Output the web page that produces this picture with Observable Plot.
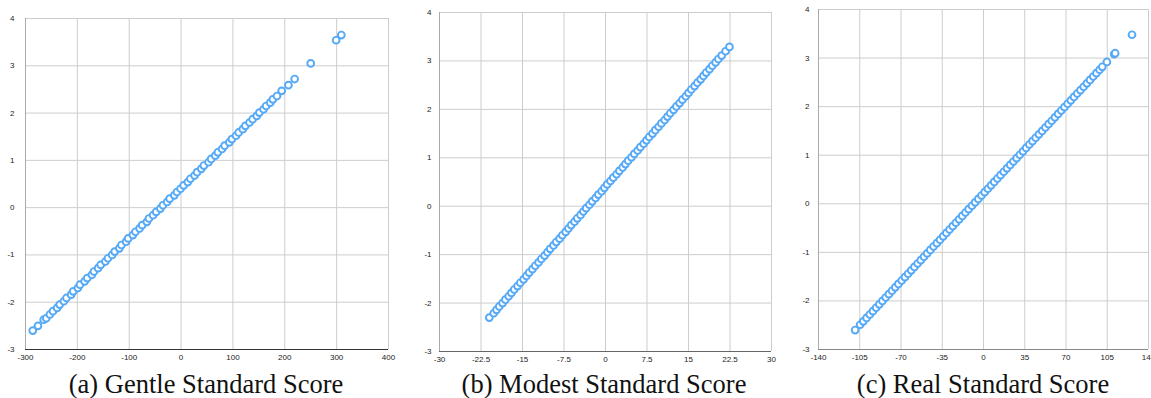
<!DOCTYPE html>
<html>
<head>
<meta charset="utf-8">
<script src="https://cdn.jsdelivr.net/npm/d3@7"></script>
<script src="https://cdn.jsdelivr.net/npm/@observablehq/plot@0.6"></script>
<style>
  html, body { margin: 0; padding: 0; background: #fff; }
  #root { position: relative; width: 1151px; height: 398px; overflow: hidden; }
  .panel { position: absolute; top: 0; }
  .caption { position: absolute; font-family: "Liberation Serif", "DejaVu Serif", "Times New Roman", serif; font-size: 26.5px; line-height: 1; color: #111; white-space: nowrap; transform: translateX(-50%); top: 371px; }
</style>
</head>
<body>
<div id="root"></div>
<script>
// ---- data ----
const yTicks = [-3, -2, -1, 0, 1, 2, 3, 4];

const gentleTicks = [-300, -200, -100, 0, 100, 200, 300, 400];
const gentleX = [-286, -276, -265, -260, -253, -247, -239, -234, -226, -221, -212, -208, -199, -195, -186, -181, -172, -168, -160, -155, -146, -141, -133, -128, -119, -115, -106, -102, -93, -88, -80, -75, -66, -62, -54, -48, -40, -35, -27, -22, -13, -8, -1, 5, 13, 18, 26, 31, 39, 44, 53, 58, 66, 71, 79, 84, 93, 98, 106, 111, 119, 124, 132, 138, 146, 151, 159, 164, 172, 177, 185, 194, 207, 219, 250, 299, 309];
const gentleY = [-2.60, -2.50, -2.37, -2.34, -2.26, -2.19, -2.12, -2.05, -1.98, -1.91, -1.84, -1.77, -1.70, -1.63, -1.56, -1.49, -1.42, -1.35, -1.28, -1.21, -1.14, -1.07, -1.00, -0.93, -0.86, -0.79, -0.72, -0.65, -0.58, -0.51, -0.44, -0.37, -0.30, -0.23, -0.16, -0.09, -0.02, 0.05, 0.12, 0.19, 0.26, 0.33, 0.40, 0.47, 0.54, 0.61, 0.68, 0.75, 0.82, 0.89, 0.96, 1.03, 1.10, 1.17, 1.24, 1.31, 1.38, 1.45, 1.52, 1.59, 1.66, 1.73, 1.80, 1.87, 1.94, 2.01, 2.08, 2.15, 2.22, 2.29, 2.36, 2.47, 2.59, 2.72, 3.05, 3.54, 3.65];

const modestTicks = [-30, -22.5, -15, -7.5, 0, 7.5, 15, 22.5, 30];
const modestX = [-21.0, -20.2, -19.7, -19.2, -18.6, -18.1, -17.5, -17.0, -16.5, -15.9, -15.4, -14.8, -14.3, -13.8, -13.2, -12.7, -12.1, -11.6, -11.0, -10.5, -10.0, -9.4, -8.9, -8.3, -7.8, -7.2, -6.7, -6.2, -5.6, -5.1, -4.5, -4.0, -3.5, -2.9, -2.4, -1.8, -1.3, -0.7, -0.2, 0.3, 0.9, 1.4, 2.0, 2.5, 3.1, 3.6, 4.1, 4.7, 5.2, 5.8, 6.3, 6.9, 7.4, 7.9, 8.5, 9.0, 9.6, 10.1, 10.7, 11.2, 11.7, 12.3, 12.8, 13.4, 13.9, 14.5, 15.0, 15.5, 16.1, 16.6, 17.2, 17.7, 18.2, 18.8, 19.3, 19.9, 20.4, 21.0, 21.7, 22.4];
const modestY = [-2.30, -2.21, -2.14, -2.07, -2.00, -1.93, -1.86, -1.79, -1.72, -1.65, -1.58, -1.51, -1.44, -1.37, -1.30, -1.23, -1.16, -1.09, -1.02, -0.95, -0.88, -0.81, -0.74, -0.67, -0.60, -0.53, -0.46, -0.39, -0.32, -0.25, -0.18, -0.11, -0.04, 0.03, 0.10, 0.17, 0.24, 0.31, 0.38, 0.45, 0.52, 0.59, 0.66, 0.73, 0.80, 0.87, 0.94, 1.01, 1.08, 1.15, 1.22, 1.29, 1.36, 1.43, 1.50, 1.57, 1.64, 1.71, 1.78, 1.85, 1.92, 1.99, 2.06, 2.13, 2.20, 2.27, 2.34, 2.41, 2.48, 2.55, 2.62, 2.69, 2.76, 2.83, 2.90, 2.97, 3.04, 3.11, 3.20, 3.29];

const realTicks = [-140, -105, -70, -35, 0, 35, 70, 105, 140];
const realX = [-108.9, -104.7, -102.0, -99.2, -96.5, -93.8, -91.1, -88.4, -85.7, -83.0, -80.3, -77.6, -74.9, -72.2, -69.4, -66.7, -64.0, -61.3, -58.6, -55.9, -53.2, -50.5, -47.8, -45.1, -42.4, -39.6, -36.9, -34.2, -31.5, -28.8, -26.1, -23.4, -20.7, -18.0, -15.3, -12.6, -9.8, -7.1, -4.4, -1.7, 1.0, 3.7, 6.4, 9.1, 11.8, 14.5, 17.2, 19.9, 22.7, 25.4, 28.1, 30.8, 33.5, 36.2, 38.9, 41.6, 44.3, 47.0, 49.8, 52.5, 55.2, 57.9, 60.6, 63.3, 66.0, 68.7, 71.4, 74.1, 76.8, 79.5, 82.3, 85.0, 87.7, 90.4, 93.1, 95.8, 98.5, 100.8, 104.7, 110.9, 111.7, 126.0];
const realY = [-2.60, -2.49, -2.42, -2.35, -2.28, -2.21, -2.14, -2.07, -2.00, -1.93, -1.86, -1.79, -1.72, -1.65, -1.58, -1.51, -1.44, -1.37, -1.30, -1.23, -1.16, -1.09, -1.02, -0.95, -0.88, -0.81, -0.74, -0.67, -0.60, -0.53, -0.46, -0.39, -0.32, -0.25, -0.18, -0.11, -0.04, 0.03, 0.10, 0.17, 0.24, 0.31, 0.38, 0.45, 0.52, 0.59, 0.66, 0.73, 0.80, 0.87, 0.94, 1.01, 1.08, 1.15, 1.22, 1.29, 1.36, 1.43, 1.50, 1.57, 1.64, 1.71, 1.78, 1.85, 1.92, 1.99, 2.06, 2.13, 2.20, 2.27, 2.34, 2.41, 2.48, 2.55, 2.62, 2.69, 2.76, 2.82, 2.92, 3.08, 3.10, 3.48];

const captions = ["(a) Gentle Standard Score", "(b) Modest Standard Score", "(c) Real Standard Score"];

// ---- layout ----
const panels = [
  {xs: gentleX, ys: gentleY, ticks: gentleTicks, left: 0, width: 396, ml: 25, mr: 8, mt: 18, mb: 21, ypad: 11, axis: "#333", cx: 206},
  {xs: modestX, ys: modestY, ticks: modestTicks, left: 400, width: 380, ml: 39, mr: 9, mt: 12, mb: 19, ypad: 8, axis: "#666", cx: 604},
  {xs: realX, ys: realY, ticks: realTicks, left: 780, width: 371, ml: 38, mr: 3, mt: 9, mb: 21, ypad: 9, axis: "#888", cx: 983}
];

const root = document.getElementById("root");
panels.forEach((p, i) => {
  const data = p.xs.map((x, k) => ({x, y: p.ys[k]}));
  const xmin = p.ticks[0], xmax = p.ticks[p.ticks.length - 1];
  const chart = Plot.plot({
    width: p.width,
    height: 370,
    marginLeft: p.ml, marginRight: p.mr, marginTop: p.mt, marginBottom: p.mb,
    style: {fontFamily: "'Liberation Sans', Arial, sans-serif", fontSize: "8px", color: "#222", background: "transparent", overflow: "visible"},
    x: {domain: [xmin, xmax]},
    y: {domain: [-3, 4]},
    marks: [
      Plot.gridX(p.ticks, {stroke: "#cdcdcd", strokeOpacity: 1}),
      Plot.gridY(yTicks, {stroke: "#cdcdcd", strokeOpacity: 1}),
      Plot.ruleX([xmin], {stroke: "#aaa"}),
      Plot.ruleY([-3], {stroke: p.axis, strokeWidth: 1.2}),
      Plot.axisX(p.ticks, {tickSize: 0, tickPadding: 5, tickFormat: d => String(d), label: null}),
      Plot.axisY(yTicks, {tickSize: 0, tickPadding: p.ypad, tickFormat: d => String(d), label: null}),
      Plot.dot(data, {x: "x", y: "y", r: 3.4, stroke: "#55a9f6", strokeWidth: 1.9, fill: "white"})
    ]
  });
  chart.classList.add("panel");
  chart.style.left = p.left + "px";
  root.appendChild(chart);
  const cap = document.createElement("div");
  cap.className = "caption";
  cap.style.left = p.cx + "px";
  cap.textContent = captions[i];
  root.appendChild(cap);
});
</script>
</body>
</html>
